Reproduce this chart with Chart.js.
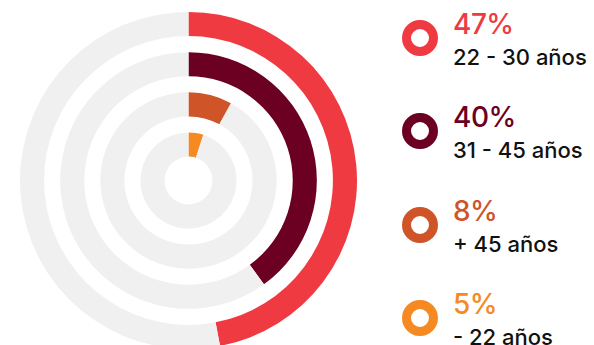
<!DOCTYPE html>
<html>
<head>
<meta charset="utf-8">
<script src="https://cdn.jsdelivr.net/npm/chart.js@4.4.0/dist/chart.umd.min.js"></script>
<style>
  body { margin: 0; width: 594px; height: 345px; overflow: hidden; background: #fff; font-family: Inter, "Noto Sans", sans-serif; }
  #wrap { position: absolute; left: 20px; top: 12px; width: 337px; height: 337px; }
  #legend { position: absolute; left: 402px; top: 20px; }
  .item { position: relative; height: 93.3px; }
  .dot { position: absolute; left: 0; top: 0; width: 18px; height: 18px; border: 9px solid; border-radius: 50%; }
  .pct { position: absolute; left: 51px; top: -10px; font-size: 28px; line-height: 1; font-weight: 500; letter-spacing: -0.5px; white-space: nowrap; }
  .lbl { position: absolute; left: 51px; top: 26px; font-size: 22px; line-height: 1; font-weight: 500; color: #111; white-space: nowrap; }
</style>
</head>
<body>
<div id="wrap"><canvas id="rings"></canvas></div>
<div id="legend"></div>
<script>
// age groups, outermost ring first
const ageGroups = ['22 - 30 años', '31 - 45 años', '+ 45 años', '- 22 años'];
const shares = [47, 40, 8, 5];
const ringColors = ['#ef3a42', '#6b0022', '#cf5529', '#f58a23'];
const trackColor = '#f0f0f0';

// one ring per group, with a see-through ring between them as a gap
const datasets = [];
shares.forEach((v, i) => {
    if (i > 0) {
        datasets.push({ data: [1], backgroundColor: 'rgba(0,0,0,0)', weight: 16, borderWidth: 0 });
    }
    datasets.push({
        data: [v, 100 - v],
        backgroundColor: [ringColors[i], trackColor],
        weight: 24,
        borderWidth: 0
    });
});

new Chart(document.getElementById('rings'), {
    type: 'doughnut',
    data: { labels: ['share', 'rest'], datasets: datasets },
    options: {
        responsive: true,
        maintainAspectRatio: false,
        animation: false,
        cutout: '14.2%',
        plugins: { legend: { display: false }, tooltip: { enabled: false } },
        events: []
    }
});

// html legend
const legend = document.getElementById('legend');
ageGroups.forEach((g, i) => {
    const item = document.createElement('div');
    item.className = 'item';
    item.innerHTML =
        `<div class="dot" style="border-color:${ringColors[i]}"></div>` +
        `<div class="pct" style="color:${ringColors[i]}">${shares[i]}%</div>` +
        `<div class="lbl">${g}</div>`;
    legend.appendChild(item);
});
</script>
</body>
</html>
